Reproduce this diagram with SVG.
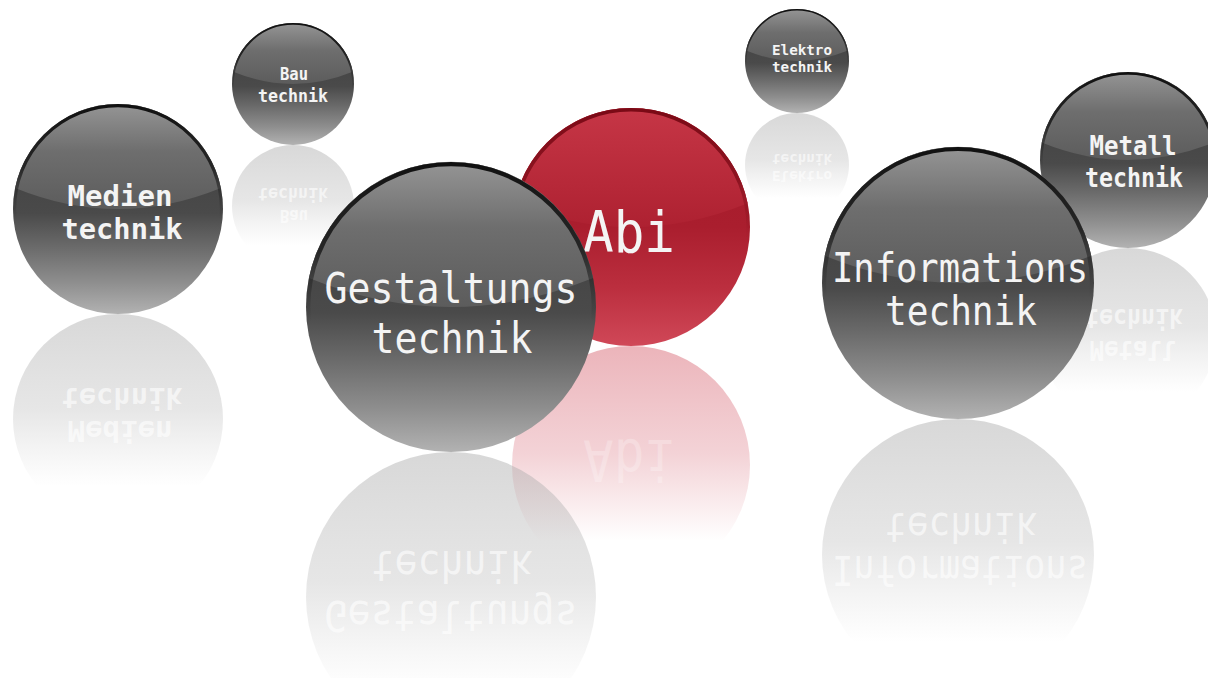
<svg xmlns="http://www.w3.org/2000/svg" xmlns:xlink="http://www.w3.org/1999/xlink" width="1208" height="678" viewBox="0 0 1208 678">
  <style>
    .lbl { font-family: "DejaVu Sans Mono", "Liberation Mono", monospace; fill: #f4f4f4; text-anchor: middle; }
    .b { font-weight: bold; }
    .rlbl { font-family: "DejaVu Sans Mono", "Liberation Mono", monospace; fill: #ffffff; fill-opacity: 0.6; text-anchor: middle; }
    .faint { fill-opacity: 0.25; }
  </style>
  <defs>
    <linearGradient id="gBase" x1="0" y1="0" x2="0" y2="1">
      <stop offset="0" stop-color="#3c3c3c"/>
      <stop offset="0.52" stop-color="#4a4a4a"/>
      <stop offset="0.68" stop-color="#6a6a6a"/>
      <stop offset="0.85" stop-color="#8e8e8e"/>
      <stop offset="1" stop-color="#b2b2b2"/>
    </linearGradient>
    <linearGradient id="gHi" x1="0" y1="0" x2="0" y2="1">
      <stop offset="0" stop-color="#959595"/>
      <stop offset="0.45" stop-color="#6e6e6e"/>
      <stop offset="1" stop-color="#5c5c5c"/>
    </linearGradient>
    <linearGradient id="gRim" x1="0" y1="0" x2="0" y2="1">
      <stop offset="0" stop-color="#111111" stop-opacity="1"/>
      <stop offset="0.3" stop-color="#1a1a1a" stop-opacity="0.85"/>
      <stop offset="0.55" stop-color="#222222" stop-opacity="0"/>
    </linearGradient>
    <linearGradient id="rBase" x1="0" y1="0" x2="0" y2="1">
      <stop offset="0" stop-color="#a41a2a"/>
      <stop offset="0.5" stop-color="#aa1e2e"/>
      <stop offset="0.75" stop-color="#bb2e3e"/>
      <stop offset="1" stop-color="#d04858"/>
    </linearGradient>
    <linearGradient id="rHi" x1="0" y1="0" x2="0" y2="1">
      <stop offset="0" stop-color="#c63646"/>
      <stop offset="1" stop-color="#ae2131"/>
    </linearGradient>
    <linearGradient id="rRim" x1="0" y1="0" x2="0" y2="1">
      <stop offset="0" stop-color="#7a0a16" stop-opacity="1"/>
      <stop offset="0.3" stop-color="#820e1a" stop-opacity="0.8"/>
      <stop offset="0.55" stop-color="#8a1420" stop-opacity="0"/>
    </linearGradient>
    <linearGradient id="gRefl" x1="0" y1="0" x2="0" y2="1">
      <stop offset="0" stop-color="#a8a8a8" stop-opacity="0.45"/>
      <stop offset="0.45" stop-color="#b8b8b8" stop-opacity="0.35"/>
      <stop offset="0.82" stop-color="#c0c0c0" stop-opacity="0"/>
    </linearGradient>
    <linearGradient id="rRefl" x1="0" y1="0" x2="0" y2="1">
      <stop offset="0" stop-color="#cc3a4a" stop-opacity="0.38"/>
      <stop offset="0.45" stop-color="#d04c5c" stop-opacity="0.25"/>
      <stop offset="0.82" stop-color="#d04c5c" stop-opacity="0"/>
    </linearGradient>
    <g id="sphGray">
      <circle r="1" fill="url(#gBase)"/>
      <path d="M-0.98,-0.2 A1,1 0 0 1 0.98,-0.2 Q0,0.2 -0.98,-0.2Z" fill="url(#gHi)"/>
      <circle r="0.985" fill="none" stroke="url(#gRim)" stroke-width="0.03"/>
    </g>
    <g id="sphRed">
      <circle r="1" fill="url(#rBase)"/>
      <path d="M-0.98,-0.2 A1,1 0 0 1 0.98,-0.2 Q0,0.2 -0.98,-0.2Z" fill="url(#rHi)"/>
      <circle r="0.985" fill="none" stroke="url(#rRim)" stroke-width="0.03"/>
    </g>
    <circle id="reflGray" r="1" fill="url(#gRefl)"/>
    <circle id="reflRed" r="1" fill="url(#rRefl)"/>
  </defs>

  <rect width="1208" height="678" fill="#ffffff"/>

  <!-- reflections -->
  <g id="refl-bau">
    <use href="#reflGray" transform="translate(293,206) scale(61)"/>
    <g transform="matrix(1 0 0 -1 0 290)">
      <text class="rlbl b" x="294" y="80" font-size="17" textLength="28" lengthAdjust="spacingAndGlyphs">Bau</text>
      <text class="rlbl b" x="293" y="102" font-size="17" textLength="70" lengthAdjust="spacingAndGlyphs">technik</text>
    </g>
  </g>
  <g id="refl-elektro">
    <use href="#reflGray" transform="translate(797,165) scale(52)"/>
    <g transform="matrix(1 0 0 -1 0 226)">
      <text class="rlbl b" x="802" y="55" font-size="14" textLength="60" lengthAdjust="spacingAndGlyphs">Elektro</text>
      <text class="rlbl b" x="802" y="72" font-size="14" textLength="60" lengthAdjust="spacingAndGlyphs">technik</text>
    </g>
  </g>
  <g id="refl-metall">
    <use href="#reflGray" transform="translate(1128,336) scale(88)"/>
    <g transform="matrix(1 0 0 -1 0 496)">
      <text class="rlbl b" x="1133" y="155" font-size="26" textLength="87" lengthAdjust="spacingAndGlyphs">Metall</text>
      <text class="rlbl b" x="1134" y="187" font-size="26" textLength="98" lengthAdjust="spacingAndGlyphs">technik</text>
    </g>
  </g>
  <g id="refl-medien">
    <use href="#reflGray" transform="translate(118,419) scale(105)"/>
    <g transform="matrix(1 0 0 -1 0 627)">
      <text class="rlbl b" x="120" y="206" font-size="28" textLength="105" lengthAdjust="spacingAndGlyphs">Medien</text>
      <text class="rlbl b" x="122" y="239" font-size="28" textLength="121" lengthAdjust="spacingAndGlyphs">technik</text>
    </g>
  </g>
  <g id="refl-abi">
    <use href="#reflRed" transform="translate(631,465) scale(119)"/>
    <g transform="matrix(1 0 0 -1 0 692)">
      <text class="rlbl faint" x="629" y="252" font-size="57" textLength="92" lengthAdjust="spacingAndGlyphs">Abi</text>
    </g>
  </g>
  <g id="refl-informations">
    <use href="#reflGray" transform="translate(958,555) scale(136)"/>
    <g transform="matrix(1 0 0 -1 0 838)">
      <text class="rlbl" x="960" y="282" font-size="40" textLength="256" lengthAdjust="spacingAndGlyphs">Informations</text>
      <text class="rlbl" x="961" y="325" font-size="40" textLength="152" lengthAdjust="spacingAndGlyphs">technik</text>
    </g>
  </g>
  <g id="refl-gestaltungs">
    <use href="#reflGray" transform="translate(451,597) scale(145)"/>
    <g transform="matrix(1 0 0 -1 0 904)">
      <text class="rlbl" x="451" y="303" font-size="42" textLength="253" lengthAdjust="spacingAndGlyphs">Gestaltungs</text>
      <text class="rlbl" x="452" y="353" font-size="42" textLength="161" lengthAdjust="spacingAndGlyphs">technik</text>
    </g>
  </g>

  <!-- spheres -->
  <g id="node-bau">
    <use href="#sphGray" transform="translate(293,84) scale(61)"/>
    <text class="lbl b" x="294" y="80" font-size="17" textLength="28" lengthAdjust="spacingAndGlyphs">Bau</text>
    <text class="lbl b" x="293" y="102" font-size="17" textLength="70" lengthAdjust="spacingAndGlyphs">technik</text>
  </g>
  <g id="node-elektro">
    <use href="#sphGray" transform="translate(797,61) scale(52)"/>
    <text class="lbl b" x="802" y="55" font-size="14" textLength="60" lengthAdjust="spacingAndGlyphs">Elektro</text>
    <text class="lbl b" x="802" y="72" font-size="14" textLength="60" lengthAdjust="spacingAndGlyphs">technik</text>
  </g>
  <g id="node-medien">
    <use href="#sphGray" transform="translate(118,209) scale(105)"/>
    <text class="lbl b" x="120" y="206" font-size="28" textLength="105" lengthAdjust="spacingAndGlyphs">Medien</text>
    <text class="lbl b" x="122" y="239" font-size="28" textLength="121" lengthAdjust="spacingAndGlyphs">technik</text>
  </g>
  <g id="node-abi">
    <use href="#sphRed" transform="translate(631,227) scale(119)"/>
    <text class="lbl" x="629" y="252" font-size="57" textLength="92" lengthAdjust="spacingAndGlyphs">Abi</text>
  </g>
  <g id="node-metall">
    <use href="#sphGray" transform="translate(1128,160) scale(88)"/>
    <text class="lbl b" x="1133" y="155" font-size="26" textLength="87" lengthAdjust="spacingAndGlyphs">Metall</text>
    <text class="lbl b" x="1134" y="187" font-size="26" textLength="98" lengthAdjust="spacingAndGlyphs">technik</text>
  </g>
  <g id="node-gestaltungs">
    <use href="#sphGray" transform="translate(451,307) scale(145)"/>
    <text class="lbl" x="451" y="303" font-size="42" textLength="253" lengthAdjust="spacingAndGlyphs">Gestaltungs</text>
    <text class="lbl" x="452" y="353" font-size="42" textLength="161" lengthAdjust="spacingAndGlyphs">technik</text>
  </g>
  <g id="node-informations">
    <use href="#sphGray" transform="translate(958,283) scale(136)"/>
    <text class="lbl" x="960" y="282" font-size="40" textLength="256" lengthAdjust="spacingAndGlyphs">Informations</text>
    <text class="lbl" x="961" y="325" font-size="40" textLength="152" lengthAdjust="spacingAndGlyphs">technik</text>
  </g>
</svg>
